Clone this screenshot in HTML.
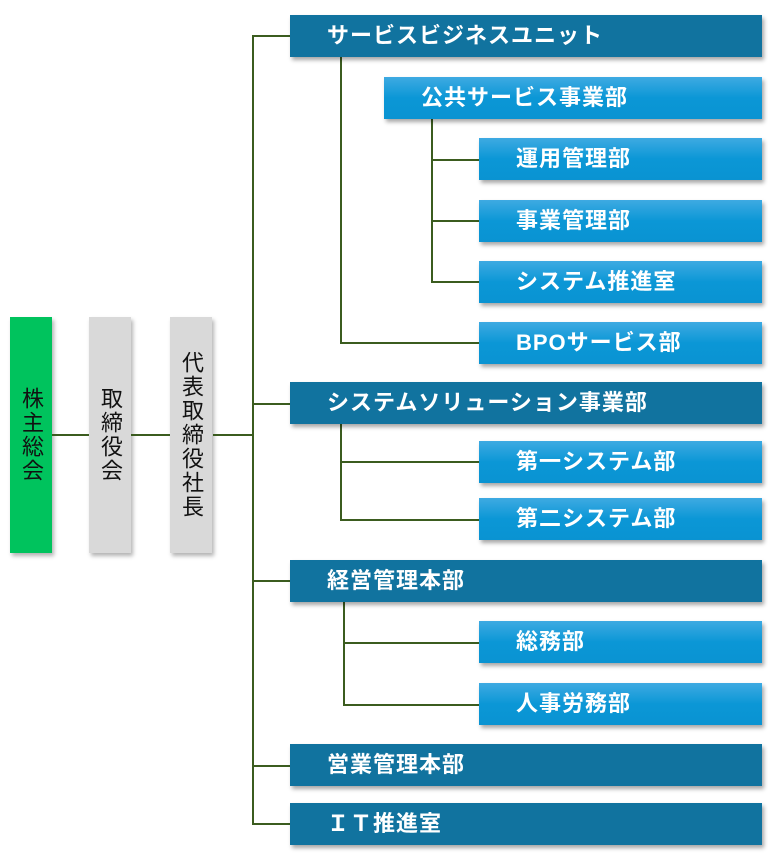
<!DOCTYPE html>
<html><head><meta charset="utf-8"><style>
body{margin:0;background:#fff;width:768px;height:862px;position:relative;overflow:hidden;font-family:"Liberation Sans","Noto Sans CJK JP",sans-serif}
.b{position:absolute;color:#fff;font-weight:bold;font-size:22px;letter-spacing:1px;line-height:42px;height:42px;box-shadow:2px 3px 4px rgba(0,0,0,.35);white-space:nowrap}
.d{background:#11739f;left:290px;width:472px;padding-left:37px;box-sizing:border-box}
.l{background:linear-gradient(#3eaae2,#0b97d6 50%,#0a93d2);width:283px;left:479px;padding-left:37px;box-sizing:border-box}
.v{position:absolute;top:317px;height:236px;width:42px;box-shadow:2px 3px 4px rgba(0,0,0,.3);font-size:22px;writing-mode:vertical-rl;text-orientation:upright;display:flex;align-items:center;justify-content:center;color:#111;letter-spacing:2px}
.h{position:absolute;background:#3b5c1f;height:2px}
.vl{position:absolute;background:#3b5c1f;width:2px}
</style></head><body>
<div class="v" style="left:10px;background:#00c35d">株主総会</div>
<div class="v" style="left:89px;background:#d9d9d9">取締役会</div>
<div class="v" style="left:170px;background:#d9d9d9">代表取締役社長</div>
<div class="h" style="left:52px;width:37px;top:434px"></div>
<div class="h" style="left:131px;width:39px;top:434px"></div>
<div class="h" style="left:213px;width:40px;top:434px"></div>
<div class="vl" style="left:252px;top:35px;height:790px"></div>
<div class="h" style="left:252px;width:38px;top:35px"></div>
<div class="h" style="left:252px;width:38px;top:403px"></div>
<div class="h" style="left:252px;width:38px;top:580px"></div>
<div class="h" style="left:252px;width:38px;top:765px"></div>
<div class="h" style="left:252px;width:38px;top:823px"></div>
<div class="vl" style="left:340px;top:57px;height:287px"></div>
<div class="h" style="left:340px;width:139px;top:342px"></div>
<div class="vl" style="left:431px;top:118px;height:165px"></div>
<div class="h" style="left:431px;width:48px;top:159px"></div>
<div class="h" style="left:431px;width:48px;top:220px"></div>
<div class="h" style="left:431px;width:48px;top:281px"></div>
<div class="vl" style="left:340px;top:424px;height:97px"></div>
<div class="h" style="left:340px;width:139px;top:461px"></div>
<div class="h" style="left:340px;width:139px;top:519px"></div>
<div class="vl" style="left:343px;top:602px;height:103px"></div>
<div class="h" style="left:343px;width:136px;top:642px"></div>
<div class="h" style="left:343px;width:136px;top:704px"></div>
<div class="b d" style="top:15px">サービスビジネスユニット</div>
<div class="b l" style="top:77px;left:384px;width:378px">公共サービス事業部</div>
<div class="b l" style="top:138px">運用管理部</div>
<div class="b l" style="top:200px">事業管理部</div>
<div class="b l" style="top:261px">システム推進室</div>
<div class="b l" style="top:322px">BPOサービス部</div>
<div class="b d" style="top:382px">システムソリューション事業部</div>
<div class="b l" style="top:441px">第一システム部</div>
<div class="b l" style="top:498px">第二システム部</div>
<div class="b d" style="top:560px">経営管理本部</div>
<div class="b l" style="top:621px">総務部</div>
<div class="b l" style="top:683px">人事労務部</div>
<div class="b d" style="top:744px">営業管理本部</div>
<div class="b d" style="top:803px">ＩＴ推進室</div>
</body></html>
